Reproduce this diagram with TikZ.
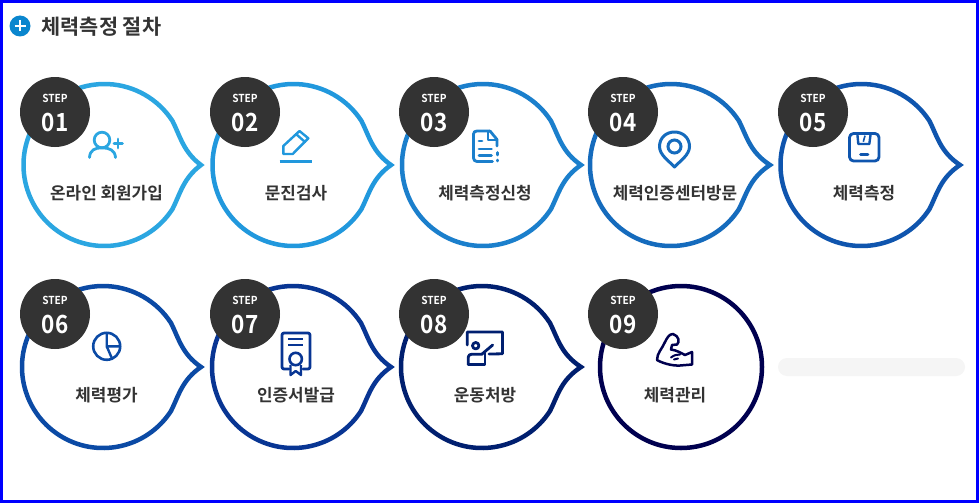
\documentclass[tikz,border=0pt]{standalone}
\usepackage{fontspec}
\setmainfont{Noto Sans CJK KR}[BoldFont={Noto Sans CJK KR Bold}]
\usetikzlibrary{calc}
\definecolor{c1}{HTML}{2BA6E1}
\definecolor{c2}{HTML}{2198DD}
\definecolor{c3}{HTML}{1B7FCC}
\definecolor{c4}{HTML}{156BBD}
\definecolor{c5}{HTML}{0F55AE}
\definecolor{c6}{HTML}{0B4AA5}
\definecolor{c7}{HTML}{083593}
\definecolor{c8}{HTML}{001F6F}
\definecolor{c9}{HTML}{00004F}
\definecolor{badge}{HTML}{333333}
\definecolor{ink}{HTML}{333333}
\definecolor{plusblue}{HTML}{0A86CE}
\tikzset{
  bubble/.style={line width=4.5pt,line join=miter,miter limit=10,fill=white},
  badgedisc/.style={circle,fill=badge,minimum size=70pt,inner sep=0pt},
  lab/.style={font=\fontsize{16.9}{18}\selectfont\bfseries,text=ink,inner sep=0pt},
  steptxt/.style={font=\fontsize{11}{12}\selectfont\bfseries,text=white,inner sep=0pt,xscale=.92,transform shape},
  numtxt/.style={font=\fontsize{25}{26}\selectfont\bfseries,text=white,inner sep=0pt,xscale=.9,transform shape},
  ico/.style={line width=2.8pt,line cap=round,line join=round},
}
\newcommand{\bubbleat}[5]{% cx cy tipx colour name
  \draw[bubble,draw=#4] ({#1+68},{#2-44})
    .. controls ({#1+76},{#2-28}) and ({#1+79},{#2-13}) .. ({#3-3},#2)
    .. controls ({#1+79},{#2+13}) and ({#1+76},{#2+28}) .. ({#1+68},{#2+44})
    arc[start angle=32.9,end angle=327.1,radius=81];
}
\newcommand{\stepbadge}[5]{% x y num name label
  \node[badgedisc] (#4) at (#1,#2) {};
  \node[steptxt] (#4s) at (#1,{#2-14}) {STEP};
  \node[numtxt] (#4n) at (#1,{#2+10}) {#3};
}
\begin{document}
\begin{tikzpicture}[x=1pt,y=-1pt]
\useasboundingbox (0,0) rectangle (979,503);
\fill[white] (0,0) rectangle (979,503);
\draw[blue,line width=3pt] (1.5,1.5) rectangle (977.5,501.5);
% header
\node[circle,fill=plusblue,minimum size=21pt,inner sep=0pt] (plus) at (20,26) {};
\draw[white,line width=2.2pt] (14.5,26) -- (25.5,26) (20,20.5) -- (20,31.5);
\node[anchor=west,font=\fontsize{20.8}{22}\selectfont\bfseries,text=ink,inner sep=0pt] (title) at (41.5,27) {체력측정 절차};
% bubbles
\bubbleat{104.5}{165}{204}{c1}{b1}
\bubbleat{293.5}{165}{394}{c2}{b2}
\bubbleat{483}{165}{584}{c3}{b3}
\bubbleat{671}{165}{773}{c4}{b4}
\bubbleat{861.5}{165}{963}{c5}{b5}
\bubbleat{103}{367}{204}{c6}{b6}
\bubbleat{293}{367}{394}{c7}{b7}
\bubbleat{482}{367}{584}{c8}{b8}
\draw[bubble,draw=c9] (681,367) circle[radius=81];
\fill[black!4,rounded corners=9pt] (778,358) rectangle (965,376);
% badges
\stepbadge{55}{112}{01}{s1}{}
\stepbadge{245}{112}{02}{s2}{}
\stepbadge{434}{112}{03}{s3}{}
\stepbadge{623}{112}{04}{s4}{}
\stepbadge{813}{112}{05}{s5}{}
\stepbadge{55}{314}{06}{s6}{}
\stepbadge{245}{314}{07}{s7}{}
\stepbadge{434}{314}{08}{s8}{}
\stepbadge{623}{314}{09}{s9}{}
% labels
\node[lab] (l1) at (106.5,193.5) {온라인 회원가입};
\node[lab] (l2) at (296,193.5) {문진검사};
\node[lab] (l3) at (485,193.5) {체력측정신청};
\node[lab] (l4) at (675,193.5) {체력인증센터방문};
\node[lab] (l5) at (864,193.5) {체력측정};
\node[lab] (l6) at (106.5,395.5) {체력평가};
\node[lab] (l7) at (296,395.5) {인증서발급};
\node[lab] (l8) at (485,395.5) {운동처방};
\node[lab] (l9) at (675,395.5) {체력관리};
% icon 1 person
\draw[ico,c1] (102,140) circle[radius=7.8];
\draw[ico,c1] (89.5,157.5) .. controls (90,150) and (95,147.8) .. (102,147.8) .. controls (109,147.8) and (115,150) .. (115.5,157.5);
\draw[ico,c1] (114,143.5) -- (122.5,143.5) (118,139) -- (118,148);
% icon 2 pencil
\draw[c2,line width=2.8pt] (279.5,161.5) -- (312,161.5);
\draw[ico,c2,line width=2.4pt] (283.3,154) -- (283.3,146) -- (299.5,131) -- (308.3,138.3) -- (292.7,154) -- cycle (296,134) -- (305,142);
% icon 3 document
\draw[ico,c3] (490,131) -- (477,131) .. controls (475,131) and (473.5,132) .. (473.5,134) -- (473.5,158) .. controls (473.5,160) and (475,161.5) .. (477,161.5) -- (492.5,161.5);
\draw[ico,c3] (490,131) -- (497,139.5) -- (497,146);
\draw[ico,c3,line width=2pt] (488,131) -- (488,139.5) -- (497,139.5);
\draw[ico,c3] (479,141) -- (482,141) (479,149) -- (491.5,149) (479,155.7) -- (491.5,155.7);
\draw[ico,c3] (497.3,152.5) -- (497.3,155) (497.3,160) -- (497.3,161);
% icon 4 pin
\draw[c4,line width=3pt,line join=round] (674.5,167) .. controls (669,161) and (659.5,155) .. (659.5,146.5) .. controls (659.5,138) and (666,132) .. (674.5,132) .. controls (683,132) and (689.5,138) .. (689.5,146.5) .. controls (689.5,155) and (680,161) .. (674.5,167) -- cycle;
\draw[c4,line width=3pt] (674.5,146.5) circle[radius=6.5];
% icon 5 scale
\draw[ico,c5,rounded corners=4pt] (849.5,133.5) rectangle (879,161);
\draw[ico,c5,line width=2.4pt] (857.3,133.5) -- (858.3,144) -- (869.3,144) -- (870.7,133.5);
\draw[c5,line width=1.6pt] (863.3,141.7) -- (865,135.7);
\draw[ico,c5] (860.5,154.3) -- (868,154.3);
% icon 6 pie
\draw[c6,line width=2.6pt] (106.7,346.3) circle[radius=13.5];
\draw[c6,line width=2.4pt] (106.7,332.8) -- (106.7,346.3) -- (120.2,346.3) (106.7,346.3) -- (112,358.5);
% icon 7 certificate
\draw[ico,c7,rounded corners=2pt] (289,369) -- (282,369) -- (282,333) -- (310,333) -- (310,369) -- (303,369);
\draw[c7,line width=2pt] (288,339) -- (303,339) (288,345.3) -- (303,345.3);
\draw[c7,line width=2.6pt] (295.7,359) circle[radius=6.2];
\draw[c7,line width=2.4pt,line join=round] (290.5,365) -- (290.5,375) -- (295.7,371) -- (301,375) -- (301,365);
% icon 8 teacher
\draw[ico,c8] (467.3,345) -- (467.3,332) -- (502.5,332) -- (502.5,353.8) -- (489,354);
\draw[ico,c8] (475.7,345.7) circle[radius=3.2];
\draw[ico,c8] (468.3,364.5) -- (468.3,357) .. controls (468.3,355) and (470,354.3) .. (471.7,354.3) -- (481.7,354.3) -- (492.7,345);
\draw[ico,c8] (468.3,364.5) -- (485,364.5) -- (485,353);
% icon 9 muscle
\draw[ico,c9,line width=2.5pt] (673,334) .. controls (669,334) and (667,338) .. (665,342) .. controls (662,349) and (657,353) .. (657,360) .. controls (662,363) and (672,366) .. (680,365.5) -- (692,364.5) -- (692,352) -- (685,355) .. controls (681,353) and (676,350) .. (671,349.5) -- (672,345) -- (677,344.5) .. controls (680,342) and (679,336) .. (673,334) -- cycle;
\draw[ico,c9,line width=2pt] (671,357.5) .. controls (674,355) and (677,354.5) .. (680,354.5) (674,359.5) -- (678,358.5);
\end{tikzpicture}
\end{document}
